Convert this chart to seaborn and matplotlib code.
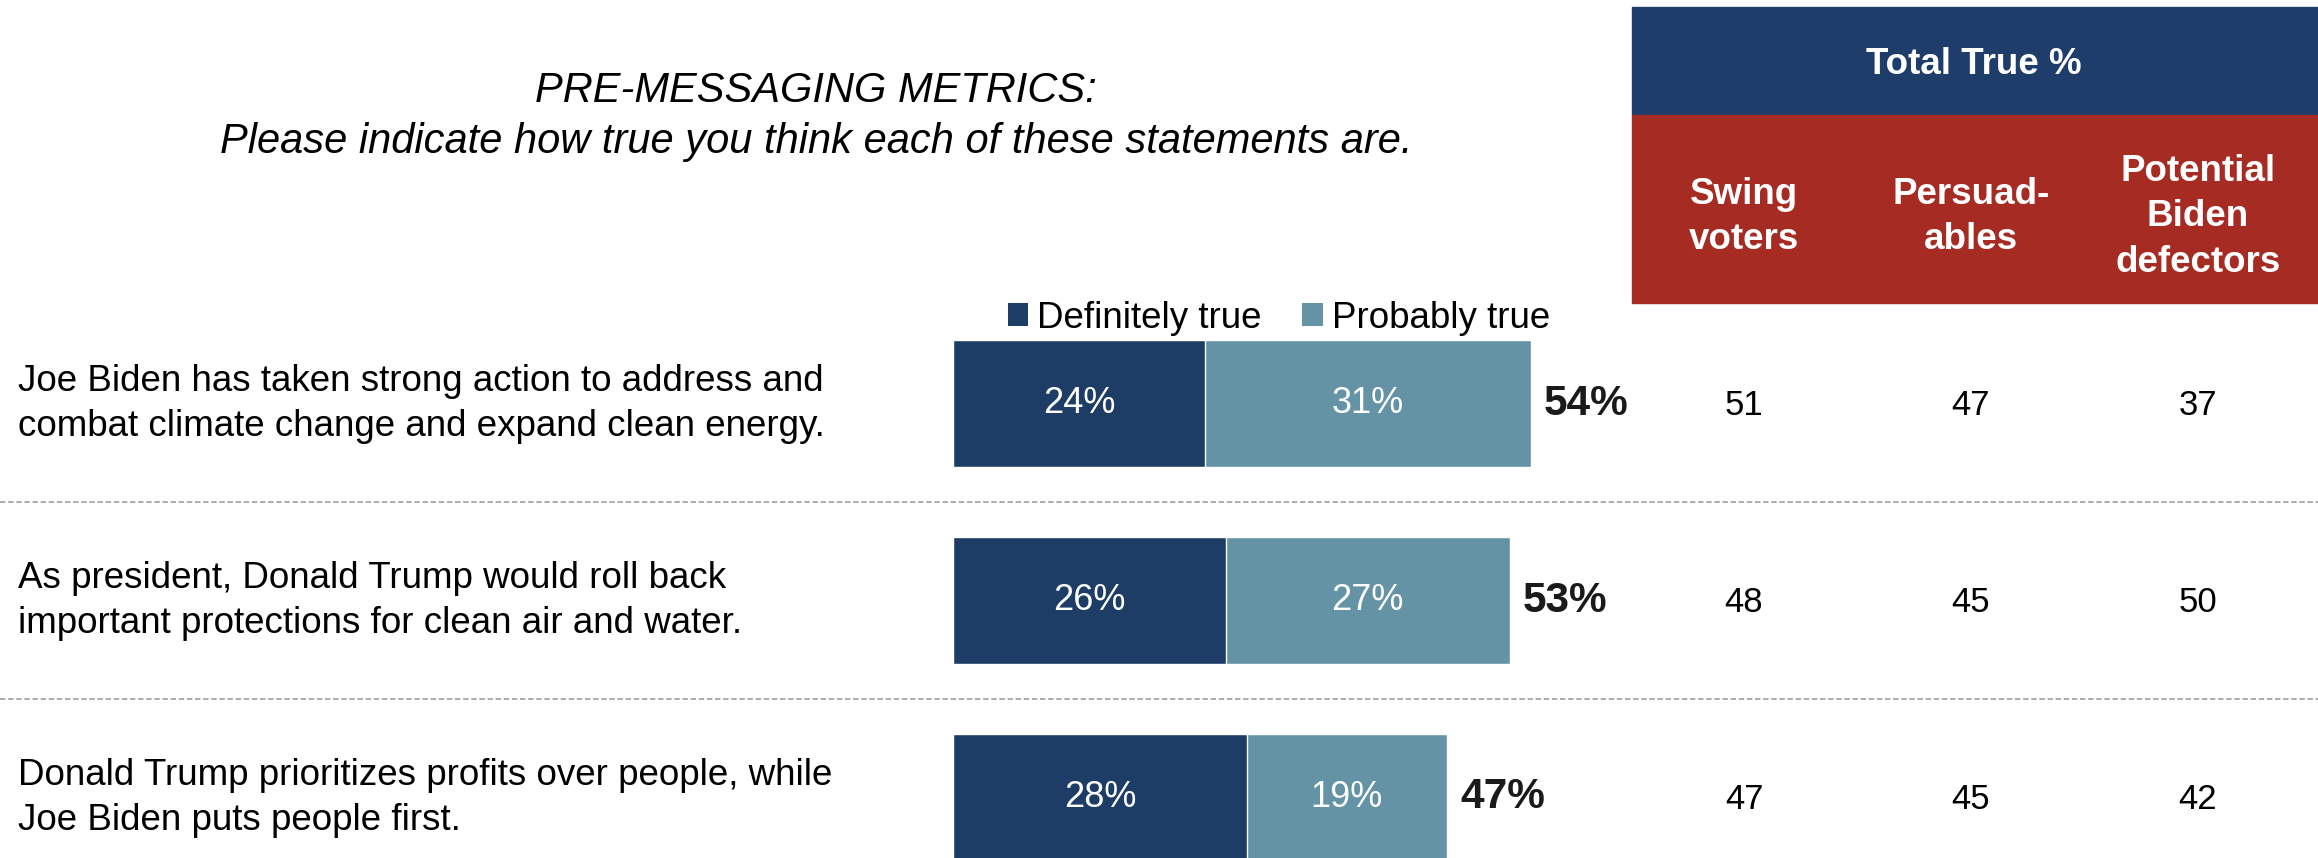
import matplotlib
matplotlib.use("Agg")
import matplotlib.pyplot as plt
import matplotlib.transforms as mtransforms
from matplotlib.patches import Rectangle
import pandas as pd
import seaborn as sns

# Data
statements = [
    "Joe Biden has taken strong action to address and\ncombat climate change and expand clean energy.",
    "As president, Donald Trump would roll back\nimportant protections for clean air and water.",
    "Donald Trump prioritizes profits over people, while\nJoe Biden puts people first.",
]
definitely_true = [24, 26, 28]
probably_true = [31, 27, 19]
total_true = [54, 53, 47]
groups = ["Swing\nvoters", "Persuad-\nables", "Potential\nBiden\ndefectors"]
swing_voters = [51, 48, 47]
persuadables = [47, 45, 45]
biden_defectors = [37, 50, 42]

dark = "#1e3d66"
light = "#6593a6"
red = "#a52b23"
head_blue = "#1f3d6a"

sns.set_style("white")
plt.rcParams["font.family"] = ["Liberation Sans", "DejaVu Sans"]
plt.rcParams["text.color"] = "black"

df = pd.DataFrame({
    "statement": statements,
    "definitely": definitely_true,
    "probably": probably_true,
})
df["stacked"] = df["definitely"] + df["probably"]

W, H = 2318, 858
fig = plt.figure(figsize=(W / 100, H / 100), dpi=100)
ax = fig.add_axes([0, 0, 1, 1])

# stacked horizontal bars: full length in light, definitely part on top
sns.barplot(data=df, x="stacked", y="statement", color=light, width=0.645,
            saturation=1, edgecolor="white", linewidth=1, ax=ax, label="Probably true")
sns.barplot(data=df, x="definitely", y="statement", color=dark, width=0.645,
            saturation=1, edgecolor="white", linewidth=1, ax=ax, label="Definitely true")

# map data onto the page: bars start at x=953px, 10.5px per point; rows 197px apart
x0, px_per = 953, 10.5
ax.set_xlim(-x0 / px_per, (W - x0) / px_per)
row0, pitch = 403.5, 197
ax.set_ylim((H - row0) / pitch, -row0 / pitch)
ax.axis("off")

# labels inside the bars
for i in range(len(statements)):
    d, p = definitely_true[i], probably_true[i]
    ax.text(d / 2, i, f"{d}%", color="white", fontsize=26, ha="center", va="center")
    ax.text(d + p / 2, i, f"{p}%", color="white", fontsize=26, ha="center", va="center")
    ax.text(d + p + 1.3, i, f"{total_true[i]}%", color="#1a1a1a", fontsize=30.5,
            fontweight="bold", ha="left", va="center")

# dashed separators
for y in [0.5, 1.5]:
    ax.axhline(y, color="#a6a6a6", lw=1.3, ls=(0, (3, 1.5)))

trans = mtransforms.blended_transform_factory(fig.transFigure, ax.transData)

# statements on the left
for i, s in enumerate(statements):
    ax.text(18 / W, i + 0.005, s, transform=trans, fontsize=26.5, ha="left", va="center",
            linespacing=1.37, color="black")

# table values
col_x = [1744, 1971, 2198]
for i in range(len(statements)):
    for cx, vals in zip(col_x, [swing_voters, persuadables, biden_defectors]):
        ax.text(cx / W, i + 0.01, str(vals[i]), transform=trans, fontsize=25,
                ha="center", va="center", color="black")

# header boxes
fig.patches.append(Rectangle((1632 / W, 1 - 115 / H), (W - 1632) / W, 108 / H,
                             transform=fig.transFigure, color=head_blue, zorder=0))
fig.patches.append(Rectangle((1632 / W, 1 - 303 / H), (W - 1632) / W, 188 / H,
                             transform=fig.transFigure, color=red, zorder=0))
fig.text(1974 / W, 1 - 65 / H, "Total True %", color="white", fontsize=26.5,
         fontweight="bold", ha="center", va="center")
for cx, g in zip(col_x, groups):
    fig.text(cx / W, 1 - 217 / H, g, color="white", fontsize=26.5, fontweight="bold",
             ha="center", va="center", linespacing=1.4)

# subtitle
fig.text(816 / W, 1 - 91 / H, "PRE-MESSAGING METRICS:", fontsize=30, style="italic",
         ha="center", va="center")
fig.text(816 / W, 1 - 142 / H,
         "Please indicate how true you think each of these statements are.",
         fontsize=30, style="italic", ha="center", va="center")

# legend above the bars
ax.legend(loc="center", bbox_to_anchor=(1279 / W, 1 - 318 / H),
          bbox_transform=fig.transFigure, ncol=2, frameon=False, fontsize=26.5,
          handlelength=0.55, handleheight=0.55, handletextpad=0.25, columnspacing=1.1,
          reverse=True)
for h in ax.get_legend().legend_handles:
    h.set_edgecolor("none")

fig.savefig("out.png", dpi=100)
